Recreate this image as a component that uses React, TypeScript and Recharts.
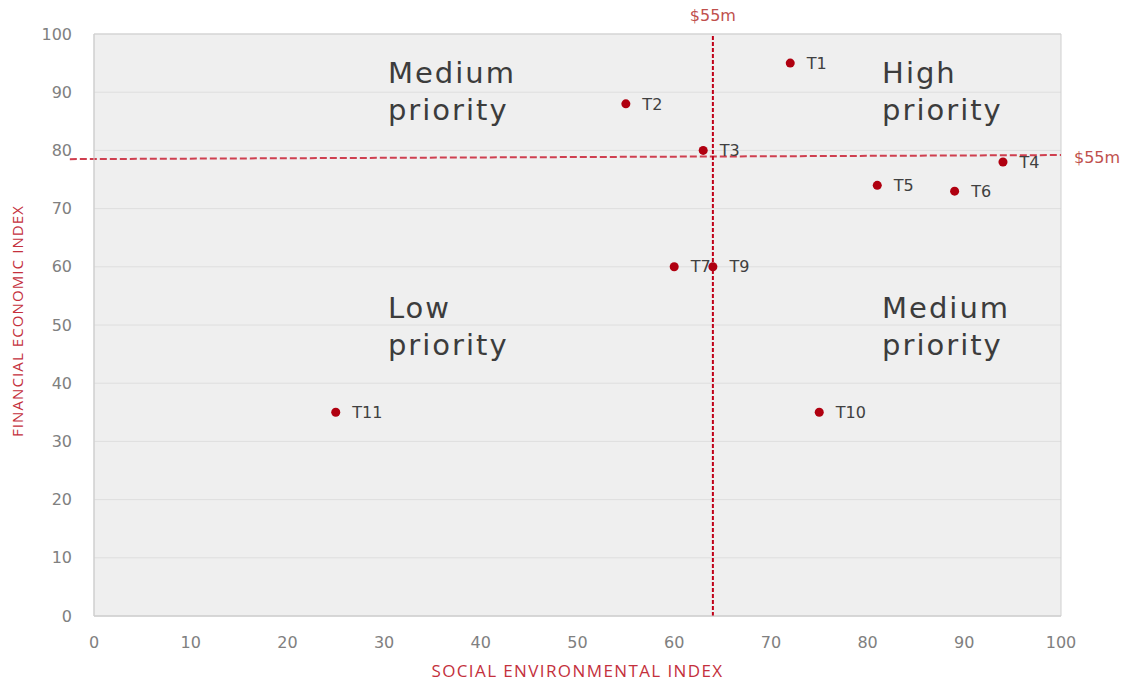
import React from 'react';
import {
  ScatterChart,
  Scatter,
  XAxis,
  YAxis,
  ZAxis,
  CartesianGrid,
  ReferenceLine,
  ReferenceArea,
  ReferenceDot,
  LabelList,
  Label
} from 'recharts';

// Projects scored on both indices
const projectNames = ['T1', 'T2', 'T3', 'T4', 'T5', 'T6', 'T7', 'T9', 'T10', 'T11'];
const socialEnvIndex = [72, 55, 63, 94, 81, 89, 60, 64, 75, 25];
const financialEconIndex = [95, 88, 80, 78, 74, 73, 60, 60, 35, 35];

const axisTicks = [0, 10, 20, 30, 40, 50, 60, 70, 80, 90, 100];

// $55m threshold lines
const thresholdSocial = 64;
const thresholdFinancialStart = 78.5;
const thresholdFinancialEnd = 79.2;
const thresholdLabel = '$55m';

// Quadrant captions, anchored at the start of their first line
const quadrantCaptions = [
  { x: 30.4, y: 93.3, lines: ['Medium', 'priority'] },
  { x: 81.5, y: 93.3, lines: ['High', 'priority'] },
  { x: 30.4, y: 52.9, lines: ['Low', 'priority'] },
  { x: 81.5, y: 52.9, lines: ['Medium', 'priority'] }
];

const points = projectNames.map((name, i) => ({
  name,
  se: socialEnvIndex[i],
  fe: financialEconIndex[i]
}));

const RED = '#c4303c';
const DOT = '#b00010';
const TICK = { fill: '#808080', fontSize: 16, fontFamily: 'DejaVu Sans' };

const QuadrantCaption = (props: any) => {
  const { viewBox, lines } = props;
  return (
    <text
      x={viewBox.x}
      y={viewBox.y}
      fill="#3c3c3c"
      fontSize={29}
      fontFamily="DejaVu Sans"
      letterSpacing={2}
    >
      {lines.map((line: string, i: number) => (
        <tspan key={i} x={viewBox.x} dy={i === 0 ? 10 : 37}>
          {line}
        </tspan>
      ))}
    </text>
  );
};

const App = () => {
  return (
    <div style={{ width: 1136, height: 685 }}>
      <style>{'body{margin:0;}'}</style>
      <ScatterChart
        width={1136}
        height={685}
        margin={{ top: 34, right: 75, left: 0, bottom: 0 }}
      >
        <CartesianGrid
          vertical={false}
          stroke="#dedede"
          fill="#efefef"
        />
        <XAxis
          type="number"
          dataKey="se"
          domain={[0, 100]}
          ticks={axisTicks}
          height={69}
          tickLine={false}
          tickSize={0}
          tickMargin={21}
          axisLine={{ stroke: '#cfcfcf' }}
          tick={TICK}
        >
          <Label
            content={(p: any) => (
              <text
                x={p.viewBox.x + p.viewBox.width / 2}
                y={p.viewBox.y + 61}
                textAnchor="middle"
                fill={RED}
                fontSize={17}
                letterSpacing={1.4}
                fontFamily="Open Sans"
              >
                SOCIAL ENVIRONMENTAL INDEX
              </text>
            )}
          />
        </XAxis>
        <YAxis
          type="number"
          dataKey="fe"
          domain={[0, 100]}
          ticks={axisTicks}
          width={94}
          tickLine={false}
          tickSize={0}
          tickMargin={22}
          axisLine={{ stroke: '#cfcfcf' }}
          tick={TICK}
        >
          <Label
            content={(p: any) => {
              const cx = p.viewBox.x + 23;
              const cy = p.viewBox.y + p.viewBox.height / 2 - 4;
              return (
                <text
                  x={cx}
                  y={cy}
                  transform={`rotate(-90 ${cx} ${cy})`}
                  textAnchor="middle"
                  fill={RED}
                  fontSize={15}
                  letterSpacing={1.1}
                  fontFamily="Open Sans"
                >
                  FINANCIAL ECONOMIC INDEX
                </text>
              );
            }}
          />
        </YAxis>
        <ZAxis range={[80, 80]} />

        <ReferenceArea
          x1={0}
          x2={100}
          y1={0}
          y2={100}
          fill="none"
          stroke="#cfcfcf"
          strokeWidth={1}
        />

        {quadrantCaptions.map((q, i) => (
          <ReferenceDot
            key={i}
            x={q.x}
            y={q.y}
            r={0}
            fill="none"
            stroke="none"
            label={<QuadrantCaption lines={q.lines} />}
          />
        ))}

        <ReferenceLine
          segment={[
            { x: -2.5, y: thresholdFinancialStart },
            { x: 100, y: thresholdFinancialEnd }
          ]}
          ifOverflow="visible"
          stroke="#cf3f4f"
          strokeWidth={2}
          strokeDasharray="7 3"
          label={{
            value: thresholdLabel,
            position: 'right',
            offset: 13,
            fill: '#c0504d',
            fontSize: 16,
            fontFamily: 'DejaVu Sans'
          }}
        />
        <ReferenceLine
          x={thresholdSocial}
          stroke="#c00018"
          strokeWidth={2}
          strokeDasharray="4 2"
          label={{
            value: thresholdLabel,
            position: 'top',
            offset: 13,
            fill: '#c0504d',
            fontSize: 16,
            fontFamily: 'DejaVu Sans'
          }}
        />

        <Scatter data={points} fill={DOT} isAnimationActive={false}>
          <LabelList
            dataKey="name"
            position="right"
            offset={12}
            fill="#404040"
            fontSize={16}
            fontFamily="DejaVu Sans"
          />
        </Scatter>
      </ScatterChart>
    </div>
  );
};

export default App;
